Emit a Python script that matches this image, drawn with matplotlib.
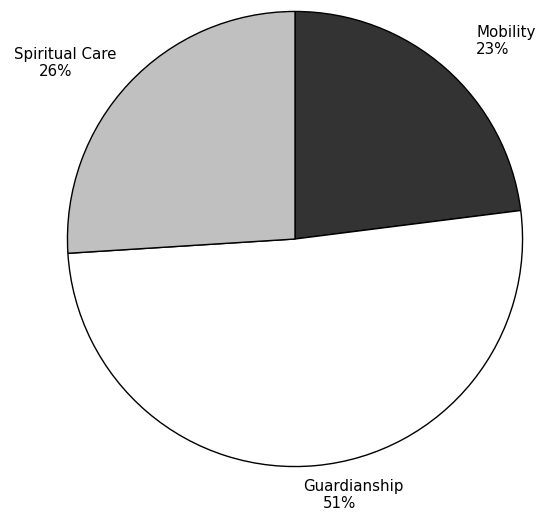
import matplotlib
matplotlib.use("Agg")
import matplotlib.pyplot as plt

labels = ["Mobility", "Guardianship", "Spiritual Care"]
shares = [23, 51, 26]
colors = ["#333333", "#ffffff", "#c0c0c0"]

# label anchor (left x, centre y of first line) in pixels, and indent of the % line
label_pos = {"Mobility": (476, 33, 0),
             "Guardianship": (303, 487, 20),
             "Spiritual Care": (14, 55, 25)}

W, H = 539, 512
fig = plt.figure(figsize=(W / 100, H / 100), dpi=100)
cx, cy, r = 295, 239, 228
ax = fig.add_axes([(cx - r) / W, (H - cy - r) / H, 2 * r / W, 2 * r / H])
ax.pie(shares, colors=colors, startangle=90, counterclock=False,
       wedgeprops=dict(edgecolor="black", linewidth=1.0))
ax.set_xlim(-1.002, 1.002)
ax.set_ylim(-1.002, 1.002)
ax.set_aspect("equal")
ax.axis("off")

for lab, val in zip(labels, shares):
    x, y, ind = label_pos[lab]
    fig.text(x / W, 1 - y / H, lab, fontsize=10.8, ha="left", va="center")
    fig.text((x + ind) / W, 1 - (y + 17) / H, f"{val}%", fontsize=10.8,
             ha="left", va="center")

fig.savefig("out.png", dpi=100)
